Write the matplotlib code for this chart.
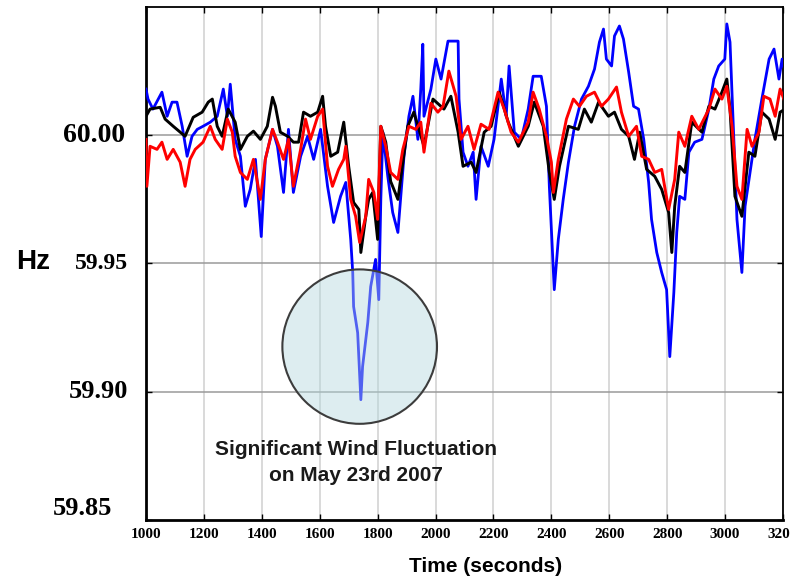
import matplotlib
matplotlib.use("Agg")
import matplotlib.pyplot as plt
from matplotlib.patches import Ellipse

# three frequency traces (seconds, Hz)
black_t = [1000, 1014, 1049, 1066, 1094, 1135, 1163, 1194, 1215, 1229, 1246, 1263, 1284, 1308,
           1326, 1350, 1371, 1395, 1419, 1437, 1447, 1464, 1489, 1509, 1527, 1544, 1568, 1593,
           1610, 1620, 1638, 1662, 1683, 1700, 1717, 1735, 1742, 1759, 1769, 1783, 1800, 1811,
           1828, 1845, 1870, 1904, 1925, 1960, 1991, 2029, 2053, 2078, 2095, 2123, 2140, 2168,
           2192, 2220, 2251, 2286, 2320, 2341, 2372, 2393, 2410, 2428, 2459, 2493, 2514, 2538,
           2563, 2597, 2618, 2642, 2667, 2687, 2705, 2729, 2757, 2781, 2805, 2816, 2826, 2843,
           2861, 2885, 2920, 2944, 2965, 2989, 3006, 3017, 3034, 3058, 3082, 3103, 3127, 3152,
           3173, 3190, 3207]
black_f = [60.0074, 60.0102, 60.0109, 60.0063, 60.0035, 59.9996, 60.0070, 60.0090, 60.0129,
           60.0141, 60.0035, 59.9996, 60.0102, 60.0051, 59.9945, 59.9996, 60.0016, 59.9984,
           60.0035, 60.0148, 60.0113, 60.0012, 59.9996, 59.9973, 59.9973, 60.0090, 60.0074,
           60.0090, 60.0152, 60.0035, 59.9918, 59.9934, 60.0051, 59.9879, 59.9738, 59.9711,
           59.9543, 59.9684, 59.9750, 59.9777, 59.9594, 60.0035, 59.9973, 59.9820, 59.9750,
           60.0035, 60.0090, 59.9957, 60.0141, 60.0102, 60.0152, 60.0012, 59.9879, 59.9895,
           59.9855, 60.0012, 60.0035, 60.0168, 60.0051, 59.9957, 60.0035, 60.0129, 60.0035,
           59.9855, 59.9750, 59.9879, 60.0035, 60.0023, 60.0102, 60.0051, 60.0129, 60.0074,
           60.0090, 60.0023, 59.9996, 59.9906, 60.0012, 59.9867, 59.9840, 59.9789, 59.9699,
           59.9543, 59.9723, 59.9879, 59.9855, 60.0051, 60.0012, 60.0113, 60.0102, 60.0168,
           60.0219, 60.0102, 59.9762, 59.9684, 59.9934, 59.9918, 60.0090, 60.0063, 59.9984,
           60.0090, 60.0102]

red_t = [1000, 1003, 1014, 1038, 1055, 1073, 1094, 1118, 1135, 1152, 1170, 1197, 1222, 1239,
         1263, 1281, 1298, 1308, 1326, 1350, 1371, 1395, 1412, 1437, 1454, 1475, 1492, 1509,
         1534, 1551, 1568, 1593, 1610, 1627, 1644, 1665, 1683, 1690, 1707, 1724, 1738, 1759,
         1769, 1787, 1800, 1811, 1828, 1845, 1870, 1887, 1908, 1932, 1949, 1960, 1984, 2008,
         2026, 2046, 2071, 2088, 2112, 2133, 2157, 2185, 2216, 2237, 2261, 2286, 2320, 2337,
         2358, 2383, 2400, 2407, 2424, 2452, 2476, 2497, 2521, 2549, 2573, 2597, 2625, 2642,
         2667, 2694, 2712, 2736, 2757, 2781, 2805, 2826, 2840, 2861, 2885, 2909, 2944, 2965,
         2989, 3006, 3024, 3041, 3058, 3076, 3093, 3117, 3134, 3155, 3173, 3190, 3207]
red_f = [59.9984, 59.9801, 59.9957, 59.9945, 59.9973, 59.9906, 59.9945, 59.9895, 59.9801,
         59.9906, 59.9945, 59.9973, 60.0035, 59.9984, 59.9945, 60.0063, 60.0012, 59.9918,
         59.9855, 59.9828, 59.9906, 59.9750, 59.9906, 60.0023, 59.9973, 59.9906, 59.9984,
         59.9801, 59.9945, 60.0063, 59.9984, 60.0074, 60.0102, 59.9879, 59.9801, 59.9867,
         59.9906, 59.9957, 59.9750, 59.9684, 59.9582, 59.9684, 59.9828, 59.9777, 59.9672,
         60.0035, 59.9957, 59.9855, 59.9828, 59.9945, 60.0035, 60.0023, 60.0051, 59.9934,
         60.0125, 60.0090, 60.0113, 60.0250, 60.0152, 59.9984, 60.0035, 59.9945, 60.0043,
         60.0023, 60.0168, 60.0102, 60.0012, 59.9973, 60.0051, 60.0168, 60.0102, 59.9996,
         59.9895, 59.9777, 59.9906, 60.0063, 60.0141, 60.0113, 60.0152, 60.0168, 60.0113,
         60.0141, 60.0188, 60.0090, 59.9996, 60.0035, 59.9918, 59.9906, 59.9855, 59.9867,
         59.9711, 59.9828, 60.0012, 59.9957, 60.0074, 60.0023, 60.0102, 60.0180, 60.0141,
         60.0191, 60.0035, 59.9801, 59.9750, 60.0023, 59.9957, 60.0012, 60.0152, 60.0141,
         60.0074, 60.0180, 60.0129]

blue_t = [1000, 1007, 1024, 1055, 1073, 1090, 1107, 1125, 1142, 1159, 1177, 1197, 1222, 1246,
          1267, 1281, 1291, 1308, 1326, 1343, 1360, 1378, 1398, 1412, 1437, 1454, 1475, 1492,
          1509, 1534, 1558, 1579, 1603, 1627, 1648, 1672, 1690, 1707, 1714, 1717, 1731, 1742,
          1748, 1766, 1776, 1793, 1804, 1811, 1818, 1835, 1852, 1870, 1891, 1908, 1922, 1939,
          1949, 1956, 1960, 1984, 2001, 2019, 2043, 2078, 2081, 2095, 2112, 2130, 2140, 2157,
          2182, 2202, 2227, 2244, 2254, 2272, 2296, 2320, 2337, 2365, 2383, 2393, 2410, 2424,
          2441, 2459, 2480, 2504, 2528, 2549, 2566, 2580, 2590, 2608, 2618, 2635, 2649, 2667,
          2684, 2701, 2719, 2736, 2746, 2764, 2781, 2798, 2809, 2823, 2833, 2843, 2861, 2875,
          2895, 2920, 2944, 2961, 2978, 2999, 3006, 3017, 3030, 3041, 3058, 3069, 3086, 3103,
          3127, 3152, 3169, 3186, 3197, 3207]
blue_f = [60.0180, 60.0141, 60.0102, 60.0168, 60.0074, 60.0129, 60.0129, 60.0035, 59.9918,
          59.9996, 60.0023, 60.0035, 60.0051, 60.0074, 60.0180, 60.0074, 60.0199, 59.9984,
          59.9918, 59.9723, 59.9789, 59.9906, 59.9605, 59.9906, 60.0023, 59.9957, 59.9777,
          60.0023, 59.9777, 59.9918, 59.9996, 59.9906, 60.0023, 59.9801, 59.9660, 59.9762,
          59.9816, 59.9594, 59.9465, 59.9332, 59.9230, 59.8969, 59.9098, 59.9270, 59.9410,
          59.9516, 59.9359, 59.9750, 60.0012, 59.9840, 59.9699, 59.9621, 59.9918, 60.0074,
          60.0152, 59.9984, 60.0180, 60.0355, 60.0074, 60.0180, 60.0297, 60.0219, 60.0367,
          60.0367, 60.0141, 59.9934, 59.9879, 59.9934, 59.9750, 59.9957, 59.9879, 59.9984,
          60.0219, 60.0074, 60.0270, 60.0012, 59.9984, 60.0102, 60.0230, 60.0230, 60.0113,
          59.9801, 59.9398, 59.9594, 59.9750, 59.9895, 60.0035, 60.0141, 60.0191, 60.0258,
          60.0363, 60.0414, 60.0297, 60.0270, 60.0387, 60.0426, 60.0375, 60.0246, 60.0113,
          60.0102, 59.9984, 59.9816, 59.9672, 59.9543, 59.9465, 59.9398, 59.9137, 59.9387,
          59.9621, 59.9762, 59.9750, 59.9934, 59.9973, 59.9984, 60.0102, 60.0219, 60.0270,
          60.0297, 60.0434, 60.0363, 59.9984, 59.9672, 59.9465, 59.9723, 59.9855, 59.9984,
          60.0141, 60.0297, 60.0336, 60.0219, 60.0297, 60.0246]

y_ticks = [59.85, 59.90, 59.95, 60.00]
x_ticks = list(range(1000, 3201, 200))

note = "Significant Wind Fluctuation\non May 23rd 2007"

serif = "Liberation Serif"
sans = "Liberation Sans"

fig = plt.figure(figsize=(7.9, 5.78), dpi=100)
ax = fig.add_axes([146 / 790, 58 / 578, 637 / 790, 513 / 578])

ax.plot(blue_t, blue_f, color="#0000ff", lw=2.0, zorder=3)
ax.plot(black_t, black_f, color="black", lw=2.1, zorder=4)
ax.plot(red_t, red_f, color="#ff0000", lw=2.1, zorder=5)

ax.set_xlim(1000, 3200)
ax.set_ylim(59.85, 60.05)

for x in x_ticks:
    ax.axvline(x, color="#cfcfcf", lw=1.1, zorder=1)
for y in y_ticks[1:]:
    ax.axhline(y, color="#9a9a9a", lw=1.1, zorder=1)

ax.set_xticks(x_ticks)
ax.set_xticklabels([str(x) for x in x_ticks], fontfamily=serif, fontweight="bold", fontsize=11)
ax.set_yticks(y_ticks)
ax.set_yticklabels([])
ax.tick_params(axis="both", direction="in", length=4, width=1, top=True, right=True, pad=6)

for side in ["left", "bottom"]:
    ax.spines[side].set_linewidth(2)
for side in ["top", "right"]:
    ax.spines[side].set_linewidth(1.3)

# y labels are placed a bit unevenly in the original
ytr = ax.get_yaxis_transform()
ax.text(-0.033, 60.00, "60.00", transform=ytr, ha="right", va="center",
        fontfamily=serif, fontweight="bold", fontsize=20)
ax.text(-0.028, 59.95, "59.95", transform=ytr, ha="right", va="center",
        fontfamily=serif, fontweight="bold", fontsize=17)
ax.text(-0.028, 59.90, "59.90", transform=ytr, ha="right", va="center",
        fontfamily=serif, fontweight="bold", fontsize=19)
ax.text(-0.053, 59.85, "59.85", transform=ytr, ha="right", va="bottom",
        fontfamily=serif, fontweight="bold", fontsize=19)

circle = Ellipse((1738, 59.9176), width=534, height=0.0602, facecolor="#b4d9de",
                 edgecolor="none", alpha=0.45, zorder=6)
ax.add_patch(circle)
ring = Ellipse((1738, 59.9176), width=534, height=0.0602, facecolor="none",
               edgecolor="#3c3c3c", lw=1.5, zorder=7)
ax.add_patch(ring)

ax.text(1724, 59.8725, note, ha="center", va="center", fontfamily=sans,
        fontweight="bold", fontsize=15, color="#1a1a1a", linespacing=1.45, zorder=8)

fig.text(33 / 790, 1 - 262 / 578, "Hz", ha="center", va="center",
         fontfamily=sans, fontweight="bold", fontsize=20)
fig.text(486 / 790, 1 - 566 / 578, "Time (seconds)", ha="center", va="center",
         fontfamily=sans, fontweight="bold", fontsize=15)

fig.savefig("out.png", dpi=100)
